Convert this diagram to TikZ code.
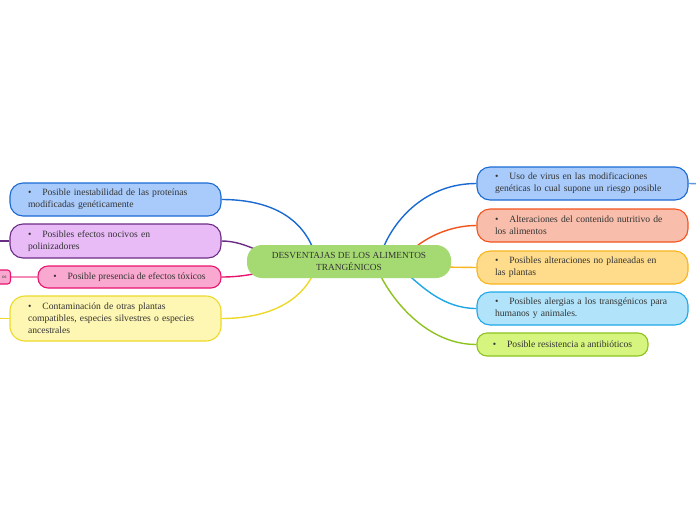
\documentclass[tikz,border=0pt]{standalone}
\usepackage{fontspec}
\setmainfont{Liberation Serif}
\usetikzlibrary{calc}
\definecolor{txt}{HTML}{333333}
\definecolor{cfill}{HTML}{A5D972}
\definecolor{bfill}{HTML}{A9CBFB}\definecolor{bline}{HTML}{1B6AD3}
\definecolor{pfill}{HTML}{E8BBF7}\definecolor{pline}{HTML}{6B2C85}
\definecolor{kfill}{HTML}{F9A9CF}\definecolor{kline}{HTML}{E8156E}
\definecolor{yfill}{HTML}{FEF6B3}\definecolor{yline}{HTML}{EDD92A}
\definecolor{sfill}{HTML}{F8BEAB}\definecolor{sline}{HTML}{F2541E}
\definecolor{ofill}{HTML}{FEDC8C}\definecolor{oline}{HTML}{F8B51E}
\definecolor{lfill}{HTML}{B1E4FA}\definecolor{lline}{HTML}{1FA7E8}
\definecolor{gfill}{HTML}{D6F57E}\definecolor{gline}{HTML}{8DC21F}
\pgfdeclarelayer{bgwhite}
\pgfdeclarelayer{conn}
\pgfsetlayers{bgwhite,conn,main}
\newcommand{\bul}{\textbullet\hspace{11pt}}
\begin{document}
\begin{tikzpicture}[x=1pt,y=-1pt,
  leaf/.style={rectangle, rounded corners=13pt, draw, line width=1.1pt, align=left,
    inner xsep=18pt, inner ysep=0pt, text=txt, font=\fontsize{9.6}{12}\selectfont},
  oneline/.style={leaf, rounded corners=10pt, inner xsep=0pt, align=center},
  centre/.style={rectangle, rounded corners=15pt, fill=cfill, draw=none, align=center,
    text=txt, font=\fontsize{9.3}{12}\selectfont, minimum width=204pt, minimum height=33pt, inner sep=0pt},
  conline/.style={line width=1.4pt}]
\useasboundingbox (0,0) rectangle (696,520);
\begin{pgfonlayer}{bgwhite}
\fill[white] (0,0) rectangle (696,520);
\end{pgfonlayer}
% central
\node[centre] (c) at (349,261.5) {DESVENTAJAS DE LOS ALIMENTOS\\TRANGÉNICOS};
% left
\node[leaf, fill=bfill, draw=bline, text width=175pt, minimum height=33pt] (lb) at (115.5,199.5)
  {\bul Posible inestabilidad de las proteínas\\modificadas genéticamente};
\node[leaf, fill=pfill, draw=pline, text width=175pt, minimum height=34pt] (lp) at (115.5,241)
  {\bul Posibles efectos nocivos en\\polinizadores};
\node[oneline, fill=kfill, draw=kline, minimum width=183pt, minimum height=22pt] (lk) at (129.5,277)
  {\bul Posible presencia de efectos tóxicos};
\node[leaf, fill=yfill, draw=yline, text width=175pt, minimum height=45pt, rounded corners=15pt] (ly) at (115.5,318.5)
  {\bul Contaminación de otras plantas\\compatibles, especies silvestres o especies\\ancestrales};
\node[leaf, fill=kfill, draw=kline, text width=30pt, inner xsep=4pt, rounded corners=3pt, minimum height=14pt,
  align=right, font=\fontsize{5}{6}\selectfont, anchor=east] (ks) at (11,277) {os};
% right
\node[leaf, fill=bfill, draw=bline, text width=175pt, minimum height=33pt] (rb) at (582.5,183.5)
  {\bul Uso de virus en las modificaciones\\genéticas lo cual supone un riesgo posible};
\node[leaf, fill=sfill, draw=sline, text width=175pt, minimum height=33pt] (rs) at (582.5,225.5)
  {\bul Alteraciones del contenido nutritivo de\\los alimentos};
\node[leaf, fill=ofill, draw=oline, text width=175pt, minimum height=33pt] (ro) at (582.5,267.5)
  {\bul Posibles alteraciones no planeadas en\\las plantas};
\node[leaf, fill=lfill, draw=lline, text width=175pt, minimum height=33pt] (rl) at (582.5,308.5)
  {\bul Posibles alergias a los transgénicos para\\humanos y animales.};
\node[oneline, fill=gfill, draw=gline, minimum width=171pt, minimum height=23pt] (rg) at (562.5,344.5)
  {\bul Posible resistencia a antibióticos};
% off-page ends
\coordinate (po) at (-20,241);
\coordinate (yo) at (-20,318.5);
\coordinate (bo) at (716,184);
\begin{pgfonlayer}{conn}
\draw[conline, bline] ($(c.center)+(-36,-13)$) .. controls +(-12,-30) and +(50,0) .. (lb.east);
\draw[conline, pline] ($(c.center)+(-93,-12)$) .. controls +(-10,-4) and +(14,0) .. (lp.east);
\draw[conline, kline] ($(c.center)+(-93,12)$) .. controls +(-10,2) and +(14,0) .. (lk.east);
\draw[conline, yline] ($(c.center)+(-36,13)$) .. controls +(-12,25) and +(50,0) .. (ly.east);
\draw[conline, bline] ($(c.center)+(34,-13)$) .. controls +(12,-30) and +(-50,0) .. (rb.west);
\draw[conline, sline] ($(c.center)+(66,-14)$) .. controls +(12,-10) and +(-27,0) .. (rs.west);
\draw[conline, oline] ($(c.center)+(90,5.5)$) -- (ro.west);
\draw[conline, lline] ($(c.center)+(60,14)$) .. controls +(14,12) and +(-32,0) .. (rl.west);
\draw[conline, gline] ($(c.center)+(31,13)$) .. controls +(12,25) and +(-50,0) .. (rg.west);
\draw[conline, pline] (lp.west) -- (po);
\draw[conline, yline] (ly.west) -- (yo);
\draw[conline, kline!50] (lk.west) -- (ks.east);
\draw[conline, bline!70] (rb.east) -- (bo);
\end{pgfonlayer}
\end{tikzpicture}
\end{document}
